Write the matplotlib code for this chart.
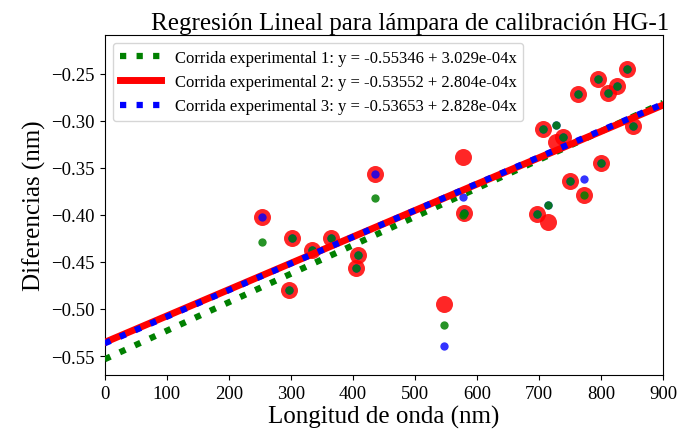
import numpy as np
import matplotlib
matplotlib.use("Agg")
import matplotlib.pyplot as plt

plt.rcParams['font.family'] = ['Liberation Serif', 'DejaVu Serif']

# longitudes de onda y diferencias medidas (nm)
lam_1 = [253.65, 296.73, 302.15, 334.15, 365.02, 404.66, 407.78, 435.83, 546.07,
         576.96, 579.07, 696.54, 706.72, 714.70, 727.29, 738.40, 750.39, 763.51,
         772.40, 794.82, 800.62, 811.53, 826.45, 842.46, 852.14]
dif_1 = [-0.429, -0.480, -0.425, -0.437, -0.425, -0.456, -0.443, -0.382, -0.517,
         -0.400, -0.398, -0.399, -0.309, -0.389, -0.304, -0.317, -0.364, -0.271,
         -0.379, -0.256, -0.345, -0.270, -0.263, -0.245, -0.306]

lam_2 = lam_1
dif_2 = [-0.402, -0.480, -0.425, -0.437, -0.425, -0.456, -0.443, -0.357, -0.495,
         -0.338, -0.398, -0.399, -0.309, -0.408, -0.322, -0.317, -0.364, -0.271,
         -0.379, -0.256, -0.345, -0.270, -0.263, -0.245, -0.306]

lam_3 = lam_1
dif_3 = [-0.402, -0.480, -0.425, -0.437, -0.425, -0.456, -0.443, -0.357, -0.539,
         -0.381, -0.398, -0.399, -0.309, -0.389, -0.304, -0.317, -0.364, -0.271,
         -0.362, -0.256, -0.345, -0.270, -0.263, -0.245, -0.306]

# coeficientes de las regresiones (a + b*x)
a_1, b_1 = -0.55346, 3.029e-04
a_2, b_2 = -0.53552, 2.804e-04
a_3, b_3 = -0.53653, 2.828e-04

fig = plt.figure(figsize=(6.98, 4.39), dpi=100)
ax = fig.add_axes([0.150, 0.1435, 0.800, 0.775])

ax.scatter(lam_2, dif_2, s=150, color='red', alpha=0.85, linewidths=0, zorder=2)
ax.scatter(lam_3, dif_3, s=36, color='blue', alpha=0.8, linewidths=0, zorder=3)
ax.scatter(lam_1, dif_1, s=36, color='green', alpha=0.85, linewidths=0, zorder=4)

x = np.linspace(0, 900, 200)
ax.plot(x, a_1 + b_1 * x, ':', color='green', lw=4.5, zorder=5,
        label='Corrida experimental 1: y = %.5f + %.3e' % (a_1, b_1) + 'x')
ax.plot(x, a_2 + b_2 * x, '-', color='red', lw=5, zorder=6,
        label='Corrida experimental 2: y = %.5f + %.3e' % (a_2, b_2) + 'x')
ax.plot(x, a_3 + b_3 * x, ':', color='blue', lw=4.5, zorder=7,
        label='Corrida experimental 3: y = %.5f + %.3e' % (a_3, b_3) + 'x')

ax.set_xlim(0, 900)
ax.set_ylim(-0.5702, -0.2085)
ax.set_xticks(range(0, 901, 100))
ax.set_yticks([-0.55, -0.50, -0.45, -0.40, -0.35, -0.30, -0.25])
ax.tick_params(labelsize=13.5)

ax.set_title('Regresión Lineal para lámpara de calibración HG-1', fontsize=18, pad=4, x=0.547)
ax.set_xlabel('Longitud de onda (nm)', fontsize=18, labelpad=2)
ax.set_ylabel('Diferencias (nm)', fontsize=18, labelpad=4)
ax.legend(loc='upper left', fontsize=12, handlelength=2.5)

fig.savefig('out.png', dpi=100)
